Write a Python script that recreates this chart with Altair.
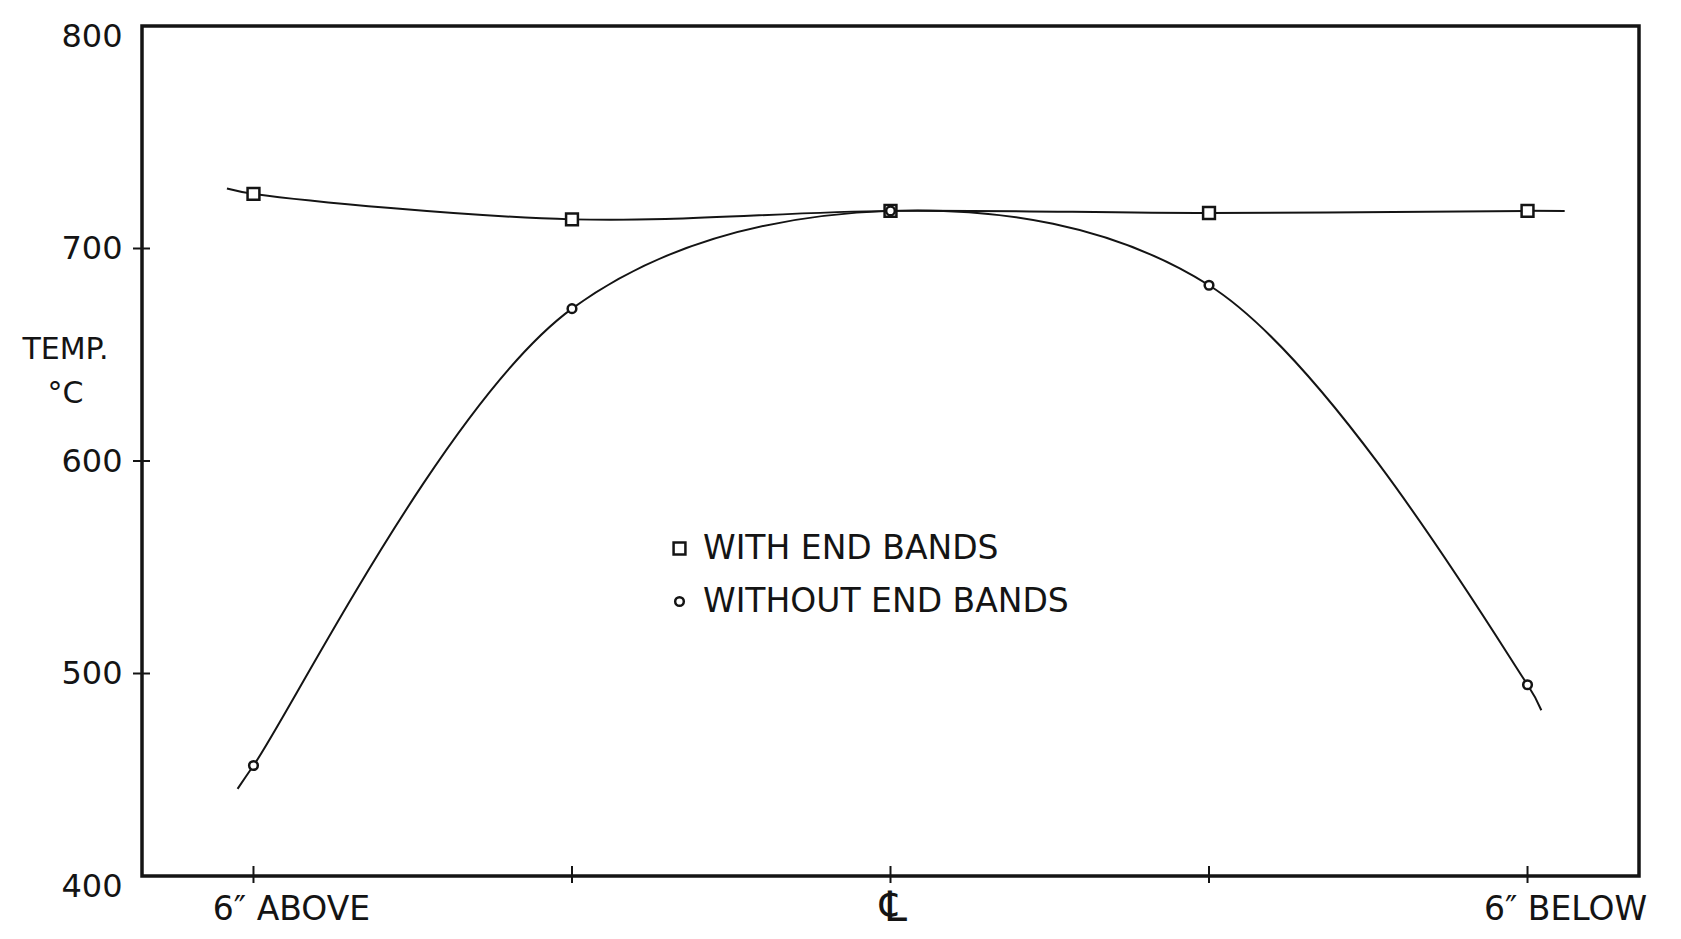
import altair as alt
import pandas as pd

FONT = "DejaVu Sans"
INK = "#141414"

# Thermocouple stations along the tube, inches from the centre line (negative = above)
positions = [-6, -3, 0, 3, 6]
with_end_bands = [721, 709, 713, 712, 713]
without_end_bands = [452, 667, 713, 678, 490]

# Where each drawn curve starts and stops beyond the outer stations
with_tail_pos = [-6.25, 6.35]
with_tail_temp = [723.5, 713]
without_tail_pos = [-6.15, 6.13]
without_tail_temp = [441, 478]

series_names = ["WITH END BANDS", "WITHOUT END BANDS"]
series_shapes = ["square", "circle"]
series_sizes = [140, 75]

y_label_values = [400, 500, 600, 700, 800]
y_cross_ticks = [500, 600, 700]
x_tick_values = [-6, -3, 0, 3, 6]
x_side_pos = [-6, 6]
x_side_labels = ["6″ ABOVE", "6″ BELOW"]
x_centre_pos = [0]
x_centre_label = ["℄"]

W, H = 1497, 850

points = pd.DataFrame({
    "pos": positions * 2,
    "temp": with_end_bands + without_end_bands,
    "series": [series_names[0]] * len(positions) + [series_names[1]] * len(positions),
})
curves = pd.concat([
    points,
    pd.DataFrame({"pos": with_tail_pos, "temp": with_tail_temp, "series": series_names[0]}),
    pd.DataFrame({"pos": without_tail_pos, "temp": without_tail_temp, "series": series_names[1]}),
]).sort_values(["series", "pos"])

xs = alt.Scale(domain=[-7.05, 7.05], nice=False, zero=False)
ys = alt.Scale(domain=[400, 800], nice=False, zero=False)

y_axis = alt.Axis(
    values=y_label_values, ticks=False, domain=False, grid=False,
    labelFont=FONT, labelFontSize=32, labelColor=INK, labelPadding=20, labelOffset=10,
    title=["TEMP.", "°C"], titleAngle=0, titleAlign="center", titleBaseline="alphabetic",
    titleX=-77, titleY=332, titleFont=FONT, titleFontSize=30, titleFontWeight="normal",
    titleColor=INK, titleLineHeight=44,
)

lines = alt.Chart(curves).mark_line(interpolate="catmull-rom", color=INK, strokeWidth=2).encode(
    x=alt.X("pos:Q", scale=xs, axis=None),
    y=alt.Y("temp:Q", scale=ys, axis=y_axis),
    detail="series:N",
)

# White cores so the curves do not show through the open markers
core_base = alt.Chart(points).encode(x=alt.X("pos:Q", scale=xs), y=alt.Y("temp:Q", scale=ys))
square_cores = core_base.transform_filter(alt.datum.series == series_names[0]).mark_point(
    shape="square", size=series_sizes[0], filled=True, color="white", opacity=1
)
circle_cores = core_base.transform_filter(alt.datum.series == series_names[1]).mark_point(
    shape="circle", size=series_sizes[1], filled=True, color="white", opacity=1
)

legend = alt.Legend(
    orient="none", legendX=521, legendY=506, title=None, padding=0,
    labelFont=FONT, labelFontSize=33, labelColor=INK, labelOffset=7, labelLimit=800,
    symbolStrokeWidth=2.5, rowPadding=19,
)

outlines = alt.Chart(points).mark_point(
    filled=False, color=INK, strokeWidth=2.5, opacity=1
).encode(
    x=alt.X("pos:Q", scale=xs),
    y=alt.Y("temp:Q", scale=ys),
    shape=alt.Shape("series:N", scale=alt.Scale(domain=series_names, range=series_shapes), legend=legend),
    size=alt.Size("series:N", scale=alt.Scale(domain=series_names, range=series_sizes), legend=legend),
)

y_ticks = alt.Chart(pd.DataFrame({"t": y_cross_ticks})).mark_rule(
    color=INK, strokeWidth=2, yOffset=10
).encode(y=alt.Y("t:Q", scale=ys), x=alt.value(-9), x2=alt.value(8))

x_ticks = alt.Chart(pd.DataFrame({"p": x_tick_values})).mark_rule(color=INK, strokeWidth=2).encode(
    x=alt.X("p:Q", scale=xs), y=alt.value(H - 10), y2=alt.value(H + 7)
)

side_labels = alt.Chart(pd.DataFrame({"p": x_side_pos, "lab": x_side_labels})).mark_text(
    align="center", baseline="alphabetic", dx=38, font=FONT, fontSize=33, color=INK
).encode(x=alt.X("p:Q", scale=xs), y=alt.value(H + 44), text="lab:N")

centre_label = alt.Chart(pd.DataFrame({"p": x_centre_pos, "lab": x_centre_label})).mark_text(
    align="center", baseline="alphabetic", dx=3, font=FONT, fontSize=42, color=INK
).encode(x=alt.X("p:Q", scale=xs), y=alt.value(H + 45), text="lab:N")

chart = alt.layer(
    lines, square_cores, circle_cores, outlines, y_ticks, x_ticks, side_labels, centre_label
).properties(
    width=W, height=H,
    autosize=alt.AutoSizeParams(type="none"),
    padding={"left": 142, "top": 26, "right": 42, "bottom": 63},
    background="white",
).configure_view(stroke=INK, strokeWidth=3.5)

chart.save("out.html", embed_options={"renderer": "svg", "actions": False})
